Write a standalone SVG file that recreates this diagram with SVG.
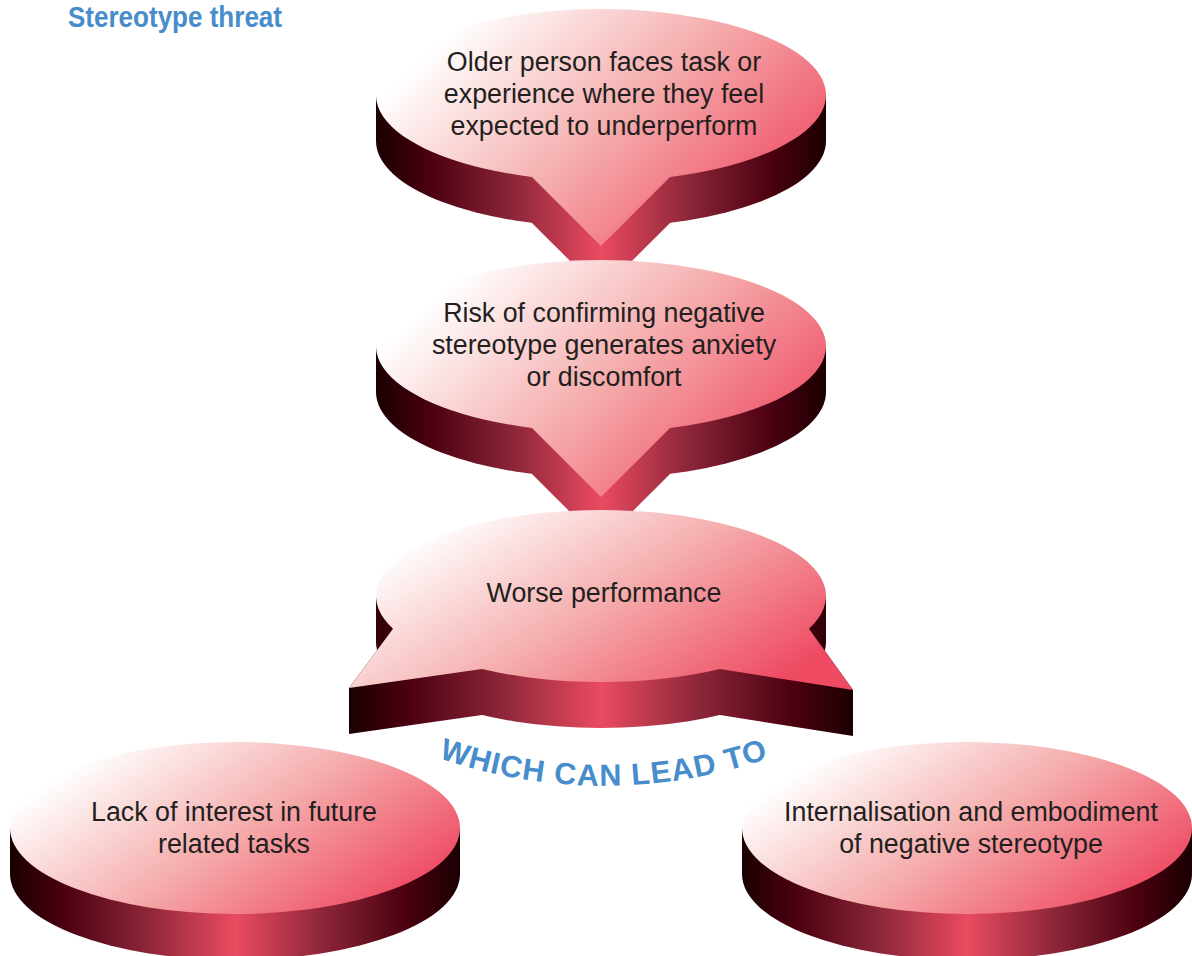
<svg xmlns="http://www.w3.org/2000/svg" width="1192" height="956" viewBox="0 0 1192 956">
<style>
.lbl{font-family:"Liberation Sans",Arial,sans-serif;font-size:26.8px;fill:#231F20;text-anchor:middle}
.ttl{font-family:"Liberation Sans",Arial,sans-serif;font-weight:bold;fill:#478CCB}
</style>
<defs>
<linearGradient id="face" x1="0.08" y1="0.25" x2="0.97" y2="0.75">
<stop offset="0" stop-color="#FFFFFF"/>
<stop offset="0.5" stop-color="#F5ABAB"/>
<stop offset="1" stop-color="#EE4A62"/>
</linearGradient>
<linearGradient id="sideBase" gradientUnits="userSpaceOnUse">
<stop offset="0" stop-color="#1A0002"/>
<stop offset="0.12" stop-color="#4B0010"/>
<stop offset="0.3" stop-color="#8A2537"/>
<stop offset="0.5" stop-color="#EA4B61"/>
<stop offset="0.7" stop-color="#8A2537"/>
<stop offset="0.88" stop-color="#4B0010"/>
<stop offset="1" stop-color="#1A0002"/>
</linearGradient>
<linearGradient id="sideA" href="#sideBase" x1="376" y1="0" x2="826" y2="0"/>
<linearGradient id="sideB" href="#sideBase" x1="348" y1="0" x2="854" y2="0"/>
<linearGradient id="sideL" href="#sideBase" x1="10" y1="0" x2="460" y2="0"/>
<linearGradient id="sideR" href="#sideBase" x1="742" y1="0" x2="1192" y2="0"/>
<path id="arcText" d="M436,757 A505,505 0 0 0 772,757"/>
</defs>

<text class="ttl" x="68" y="27" font-size="29" textLength="214" lengthAdjust="spacingAndGlyphs">Stereotype threat</text>

<g id="connectors"></g>

<g id="node1">
<g fill="url(#sideA)">
<rect x="376" y="95" width="450" height="46"/>
<ellipse cx="601" cy="141" rx="225" ry="86"/>
<polygon points="532,176.9 670,176.9 670,222.9 601,292 532,222.9"/>
</g>
<path fill="url(#face)" d="M532,176.9 A225,86 0 1 1 670,176.9 L601,246 Z"/>
<text class="lbl" x="604" y="71">Older person faces task or</text>
<text class="lbl" x="604" y="103">experience where they feel</text>
<text class="lbl" x="604" y="135">expected to underperform</text>
</g>

<g id="node2">
<g fill="url(#sideA)">
<rect x="376" y="346" width="450" height="46"/>
<ellipse cx="601" cy="392" rx="225" ry="86"/>
<polygon points="532,427.9 670,427.9 670,473.9 601,543 532,473.9"/>
</g>
<path fill="url(#face)" d="M532,427.9 A225,86 0 1 1 670,427.9 L601,497 Z"/>
<text class="lbl" x="604" y="322">Risk of confirming negative</text>
<text class="lbl" x="604" y="354">stereotype generates anxiety</text>
<text class="lbl" x="604" y="386">or discomfort</text>
</g>

<g id="node3">
<g fill="url(#sideB)">
<rect x="376" y="596" width="450" height="46"/>
<ellipse cx="601" cy="642" rx="225" ry="86"/>
<polygon points="393,628.8 349,688 349,734 482,715 482,669"/>
<polygon points="809,628.8 853,690 853,736 720,715 720,669"/>
</g>
<path fill="url(#face)" d="M393,628.8 A225,86 0 1 1 809,628.8 L853,690 L720,669 A225,86 0 0 1 482,669 L349,688 Z"/>
<text class="lbl" x="604" y="602">Worse performance</text>
</g>

<text class="ttl" font-size="30.5" letter-spacing="1"><textPath href="#arcText" startOffset="50%" text-anchor="middle">WHICH CAN LEAD TO</textPath></text>

<g id="node4">
<g fill="url(#sideL)">
<rect x="10" y="828" width="450" height="46"/>
<ellipse cx="235" cy="874" rx="225" ry="86"/>
</g>
<ellipse fill="url(#face)" cx="235" cy="828" rx="225" ry="86"/>
<text class="lbl" x="234" y="821">Lack of interest in future</text>
<text class="lbl" x="234" y="853">related tasks</text>
</g>

<g id="node5">
<g fill="url(#sideR)">
<rect x="742" y="828" width="450" height="46"/>
<ellipse cx="967" cy="874" rx="225" ry="86"/>
</g>
<ellipse fill="url(#face)" cx="967" cy="828" rx="225" ry="86"/>
<text class="lbl" x="971" y="821">Internalisation and embodiment</text>
<text class="lbl" x="971" y="853">of negative stereotype</text>
</g>
</svg>
